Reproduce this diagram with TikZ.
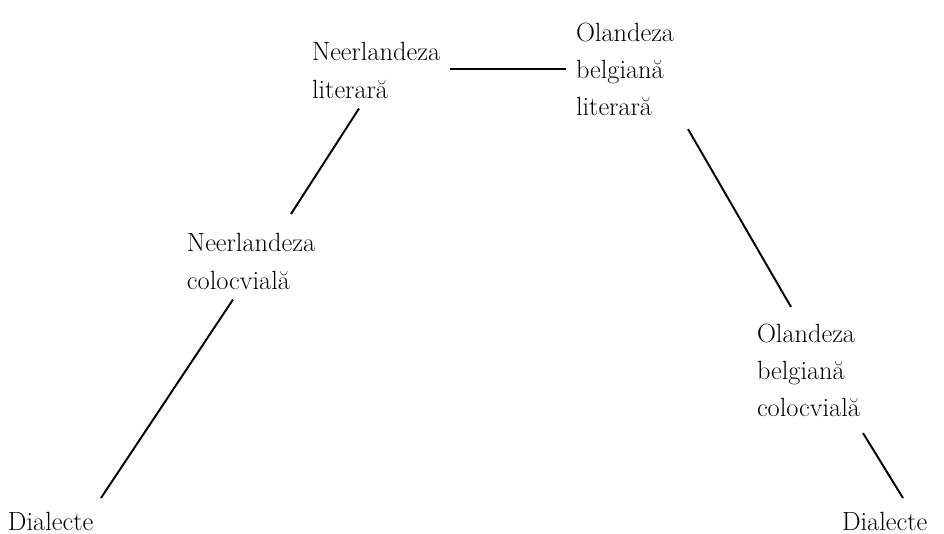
\documentclass[tikz,border=0pt]{standalone}
\usepackage{tikz}
\usetikzlibrary{calc}

\begin{document}
\begin{tikzpicture}[x=0.02cm, y=-0.02cm, line width=1.1pt]
\tikzstyle{lang}=[anchor=north west, align=left, inner sep=0.2cm, outer sep=0pt, font=\fontsize{15}{21.3}\selectfont]
\useasboundingbox (0,0) rectangle (944,534);
\node[lang] (nl) at (302,32.6) {Neerlandeza\\literară};
\node[lang] (bl) at (566,12.6) {Olandeza\\belgiană\\literară};
\node[lang] (nc) at (177,223.6) {Neerlandeza\\colocvială};
\node[lang] (bc) at (747,313.6) {Olandeza\\belgiană\\colocvială};
\node[lang] (dl) at (-2,502.6) {Dialecte};
\node[lang] (dr) at (832,502.6) {Dialecte};

\draw (nl.east |- bl.west) -- (bl.west);
\draw ($(nl.south west)+(57,0)$) -- ($(nc.north west)+(114,-9.6)$);
\draw ($(nc.south west)+(56,0)$) -- ($(dl.north west)+(103,-4.6)$);
\draw ($(bl.south west)+(122,3)$) -- ($(bc.north west)+(44,-6.6)$);
\draw ($(bc.south west)+(116,6)$) -- ($(dr.north west)+(71,-4.6)$);

\end{tikzpicture}
\end{document}
